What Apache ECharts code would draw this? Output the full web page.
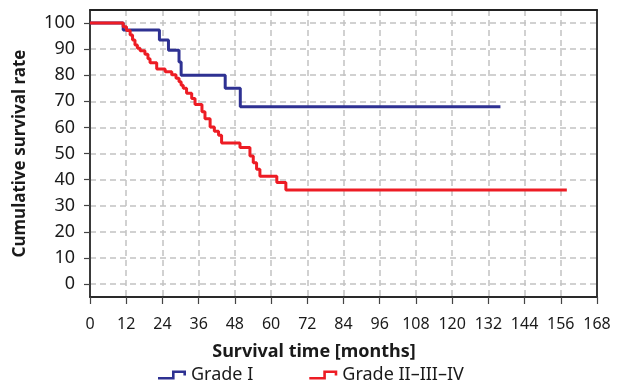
<!DOCTYPE html>
<html>
<head>
<meta charset="utf-8">
<script src="https://cdn.jsdelivr.net/npm/echarts@6/dist/echarts.min.js"></script>
<style>
html,body{margin:0;padding:0;background:#fff;}
#chart{width:618px;height:385px;}
</style>
</head>
<body>
<div id="chart"></div>
<script>
// Data (Kaplan–Meier step points: value holds from time onward)
const seriesNames = ['Grade I', 'Grade II\u2013III\u2013IV'];
const gradeI_time = [0, 11.0, 23.0, 26.0, 29.5, 30.2, 44.8, 49.8, 136];
const gradeI_rate = [100, 97.3, 93.5, 89.6, 85.1, 80.0, 75.0, 67.9, 67.9];
const gradeII_time = [0, 11.0, 12.1, 13.3, 14.1, 14.9, 15.7, 16.6, 18.2, 19.2, 19.9, 22.1, 24.9, 27.1, 28.5, 29.5, 30.2, 30.9, 32.0, 33.7, 34.8, 37.1, 38.1, 39.8, 41.2, 42.6, 43.6, 49.7, 53.0, 54.1, 55.2, 56.3, 61.9, 64.9, 158];
const gradeII_rate = [100, 98.6, 97.1, 95.4, 93.5, 91.6, 90.3, 89.4, 88.0, 86.3, 84.8, 82.4, 81.3, 80.2, 78.8, 77.5, 76.2, 75.0, 73.1, 71.1, 68.8, 66.0, 63.3, 60.2, 58.5, 57.0, 54.0, 52.3, 49.0, 46.5, 44.0, 41.3, 38.9, 36.0, 36.0];
const yTicks = [0, 10, 20, 30, 40, 50, 60, 70, 80, 90, 100];
const xTicks = [0, 12, 24, 36, 48, 60, 72, 84, 96, 108, 120, 132, 144, 156, 168];

const colors = ['#2e3192', '#ed1c24'];
const FONT = '"Noto Sans", "DejaVu Sans", sans-serif';

function pairs(t, v) { return t.map((x, i) => [x, v[i]]); }

const stepIcon = 'path://M0,6.4 L14,6.4 L14,0 L28,0 L28,5 L25.4,5 L25.4,2.6 L16.6,2.6 L16.6,9 L0,9 Z';
const frameAxis = {
  axisLine: {show: true, onZero: false, lineStyle: {color: '#222', width: 1.8}},
  axisTick: {show: false}, axisLabel: {show: false}, splitLine: {show: false}
};

const chart = echarts.init(document.getElementById('chart'), null, {renderer: 'canvas'});
chart.setOption({
  backgroundColor: '#ffffff',
  animation: false,
  grid: {left: 90, right: 21, top: 10, bottom: 88, show: false, containLabel: false},
  title: {
    text: 'Survival time [months]',
    left: 309, top: 338, textAlign: 'center',
    textStyle: {fontFamily: FONT, fontSize: 18, fontWeight: 'bold', color: '#1a1a1a'}
  },
  legend: {
    left: 158, top: 366, padding: 0,
    itemWidth: 28, itemHeight: 9, itemGap: 56,
    icon: stepIcon,
    textStyle: {fontFamily: FONT, fontSize: 18, color: '#1a1a1a'},
    data: seriesNames
  },
  xAxis: [{
    type: 'value', min: 0, max: 168, interval: 12, position: 'bottom',
    axisLine: {show: true, onZero: false, lineStyle: {color: '#2a2a2a', width: 1.8}},
    axisTick: {show: true, inside: false, length: 7, customValues: xTicks, lineStyle: {color: '#444', width: 1.2}},
    axisLabel: {margin: 19, customValues: xTicks, fontFamily: FONT, fontSize: 16, color: '#1a1a1a'},
    splitLine: {show: true, showMinLine: false, showMaxLine: false, lineStyle: {color: '#c2c2c2', width: 1.5, type: [6, 4]}}
  }, Object.assign({type: 'value', min: 0, max: 168, position: 'top'}, frameAxis)],
  yAxis: [{
    type: 'value', min: -5, max: 105, position: 'left',
    name: 'Cumulative survival rate', nameLocation: 'middle', nameGap: 61,
    nameTextStyle: {fontFamily: FONT, fontSize: 17, fontWeight: 'bold', color: '#1a1a1a'},
    axisLine: {show: true, onZero: false, lineStyle: {color: '#3a3a3a', width: 2}},
    axisTick: {show: true, inside: false, length: 6, customValues: yTicks, lineStyle: {color: '#444', width: 1.2}},
    axisLabel: {margin: 15, customValues: yTicks, fontFamily: FONT, fontSize: 18, color: '#1a1a1a'},
    splitLine: {show: true, lineStyle: {color: '#c2c2c2', width: 1.5, type: [6, 4]}}
  }, Object.assign({type: 'value', min: -5, max: 105, position: 'right'}, frameAxis)],
  series: [
    {
      name: seriesNames[0], type: 'line', step: 'end', showSymbol: false, symbol: 'none',
      color: colors[0], itemStyle: {color: colors[0]},
      lineStyle: {color: colors[0], width: 3},
      data: pairs(gradeI_time, gradeI_rate), z: 3
    },
    {
      name: seriesNames[1], type: 'line', step: 'end', showSymbol: false, symbol: 'none',
      color: colors[1], itemStyle: {color: colors[1]},
      lineStyle: {color: colors[1], width: 3},
      data: pairs(gradeII_time, gradeII_rate), z: 4
    }
  ]
});
</script>
</body>
</html>
